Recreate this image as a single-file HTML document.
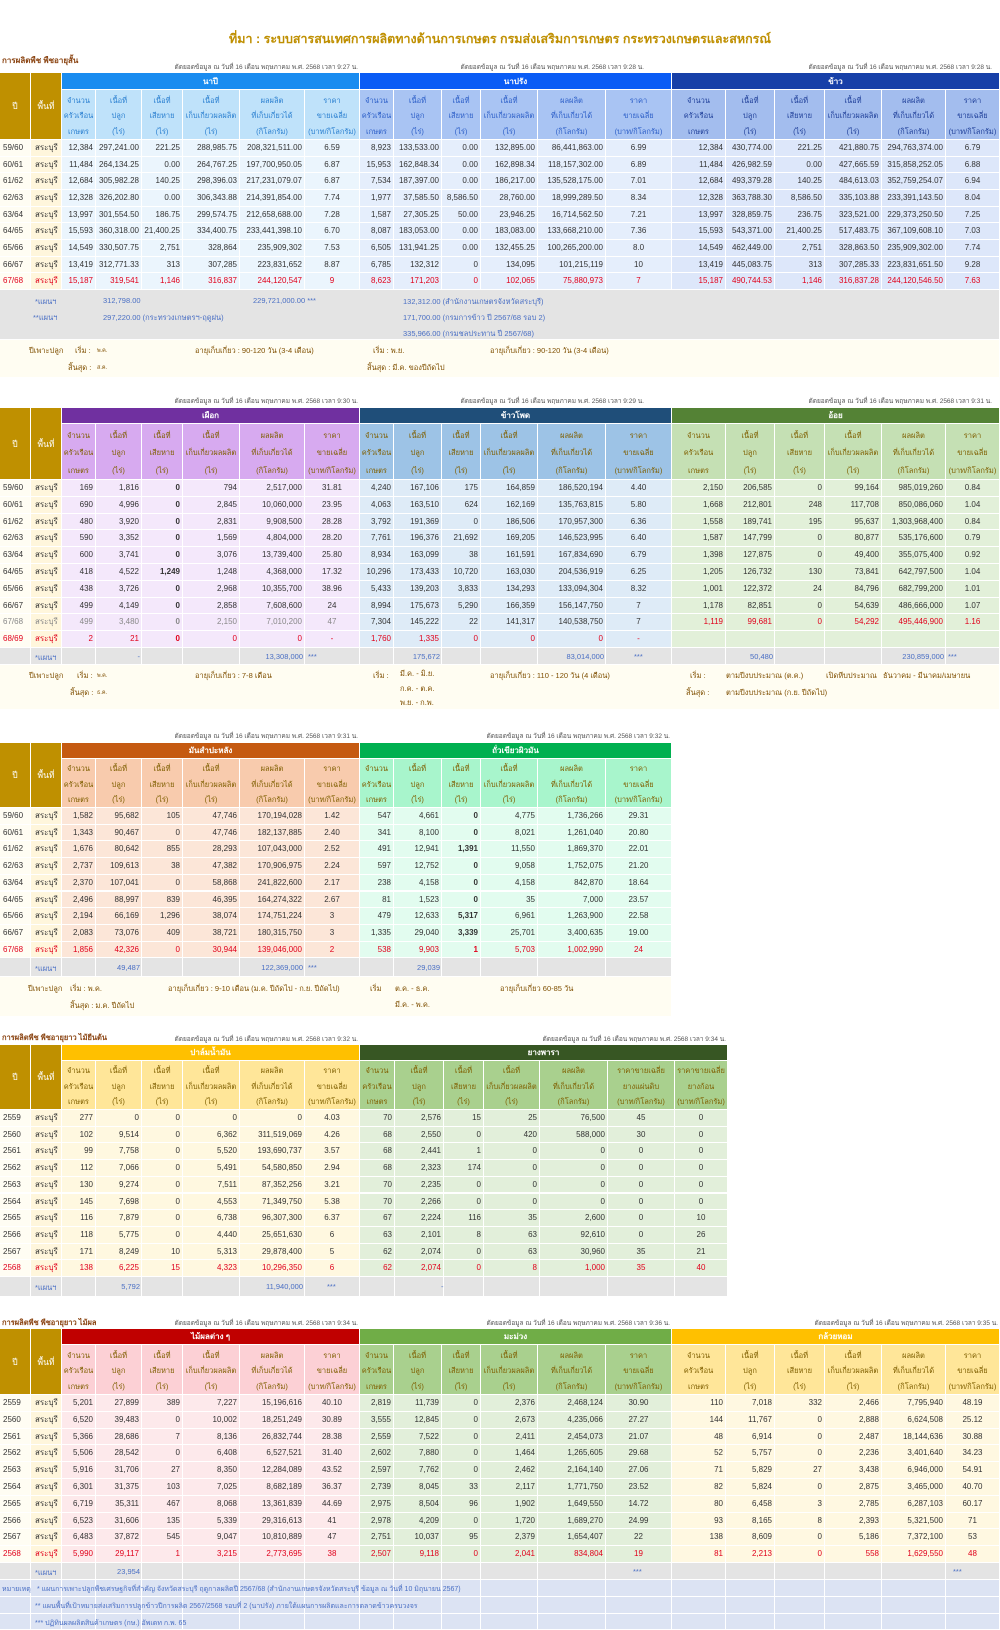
<!DOCTYPE html>
<html><head><meta charset="utf-8">
<style>
html,body{margin:0;padding:0;background:#fff;}
#page{position:relative;width:1000px;height:1630px;overflow:hidden;font-family:"Liberation Sans","DejaVu Sans",sans-serif;font-size:8px;color:#333;}
.c{position:absolute;box-sizing:border-box;border-right:1px solid #fff;border-bottom:1px solid #fff;overflow:hidden;white-space:nowrap;}
.t{position:absolute;white-space:nowrap;}
</style></head>
<body>
<div id="page">
<div class="t" style="left:0;width:1000px;top:29px;text-align:center;font-size:12.5px;font-weight:bold;color:#bf8f00;">ที่มา : ระบบสารสนเทศการผลิตทางด้านการเกษตร กรมส่งเสริมการเกษตร กระทรวงเกษตรและสหกรณ์</div>
</div>
<script>
// ---------- data ----------
const yearsShort = ["59/60","60/61","61/62","62/63","63/64","64/65","65/66","66/67","67/68"];
const yearsShort2 = ["59/60","60/61","61/62","62/63","63/64","64/65","65/66","66/67","67/68","68/69"];
const yearsLong = ["2559","2560","2561","2562","2563","2564","2565","2566","2567","2568"];
const napiRows = [
["12,384","297,241.00","221.25","288,985.75","208,321,511.00","6.59"],
["11,484","264,134.25","0.00","264,767.25","197,700,950.05","6.87"],
["12,684","305,982.28","140.25","298,396.03","217,231,079.07","6.87"],
["12,328","326,202.80","0.00","306,343.88","214,391,854.00","7.74"],
["13,997","301,554.50","186.75","299,574.75","212,658,688.00","7.28"],
["15,593","360,318.00","21,400.25","334,400.75","233,441,398.10","6.70"],
["14,549","330,507.75","2,751","328,864","235,909,302","7.53"],
["13,419","312,771.33","313","307,285","223,831,652","8.87"],
["15,187","319,541","1,146","316,837","244,120,547","9"]];
const naprangRows = [
["8,923","133,533.00","0.00","132,895.00","86,441,863.00","6.99"],
["15,953","162,848.34","0.00","162,898.34","118,157,302.00","6.89"],
["7,534","187,397.00","0.00","186,217.00","135,528,175.00","7.01"],
["1,977","37,585.50","8,586.50","28,760.00","18,999,289.50","8.34"],
["1,587","27,305.25","50.00","23,946.25","16,714,562.50","7.21"],
["8,087","183,053.00","0.00","183,083.00","133,668,210.00","7.36"],
["6,505","131,941.25","0.00","132,455.25","100,265,200.00","8.0"],
["6,785","132,312","0","134,095","101,215,119","10"],
["8,623","171,203","0","102,065","75,880,973","7"]];
const riceRows = [
["12,384","430,774.00","221.25","421,880.75","294,763,374.00","6.79"],
["11,484","426,982.59","0.00","427,665.59","315,858,252.05","6.88"],
["12,684","493,379.28","140.25","484,613.03","352,759,254.07","6.94"],
["12,328","363,788.30","8,586.50","335,103.88","233,391,143.50","8.04"],
["13,997","328,859.75","236.75","323,521.00","229,373,250.50","7.25"],
["15,593","543,371.00","21,400.25","517,483.75","367,109,608.10","7.03"],
["14,549","462,449.00","2,751","328,863.50","235,909,302.00","7.74"],
["13,419","445,083.75","313","307,285.33","223,831,651.50","9.28"],
["15,187","490,744.53","1,146","316,837.28","244,120,546.50","7.63"]];
const taroRows = [
["169","1,816","0","794","2,517,000","31.81"],
["690","4,996","0","2,845","10,060,000","23.95"],
["480","3,920","0","2,831","9,908,500","28.28"],
["590","3,352","0","1,569","4,804,000","28.20"],
["600","3,741","0","3,076","13,739,400","25.80"],
["418","4,522","1,249","1,248","4,368,000","17.32"],
["438","3,726","0","2,968","10,355,700","38.96"],
["499","4,149","0","2,858","7,608,600","24"],
["499","3,480","0","2,150","7,010,200","47"],
["2","21","0","0","0","-"]];
const cornRows = [
["4,240","167,106","175","164,859","186,520,194","4.40"],
["4,063","163,510","624","162,169","135,763,815","5.80"],
["3,792","191,369","0","186,506","170,957,300","6.36"],
["7,761","196,376","21,692","169,205","146,523,995","6.40"],
["8,934","163,099","38","161,591","167,834,690","6.79"],
["10,296","173,433","10,720","163,030","204,536,919","6.25"],
["5,433","139,203","3,833","134,293","133,094,304","8.32"],
["8,994","175,673","5,290","166,359","156,147,750","7"],
["7,304","145,222","22","141,317","140,538,750","7"],
["1,760","1,335","0","0","0","-"]];
const caneRows = [
["2,150","206,585","0","99,164","985,019,260","0.84"],
["1,668","212,801","248","117,708","850,086,060","1.04"],
["1,558","189,741","195","95,637","1,303,968,400","0.84"],
["1,587","147,799","0","80,877","535,176,600","0.79"],
["1,398","127,875","0","49,400","355,075,400","0.92"],
["1,205","126,732","130","73,841","642,797,500","1.04"],
["1,001","122,372","24","84,796","682,799,200","1.01"],
["1,178","82,851","0","54,639","486,666,000","1.07"],
["1,119","99,681","0","54,292","495,446,900","1.16"],
["","","","","",""]];
const cassavaRows = [
["1,582","95,682","105","47,746","170,194,028","1.42"],
["1,343","90,467","0","47,746","182,137,885","2.40"],
["1,676","80,642","855","28,293","107,043,000","2.52"],
["2,737","109,613","38","47,382","170,906,975","2.24"],
["2,370","107,041","0","58,868","241,822,600","2.17"],
["2,496","88,997","839","46,395","164,274,322","2.67"],
["2,194","66,169","1,296","38,074","174,751,224","3"],
["2,083","73,076","409","38,721","180,315,750","3"],
["1,856","42,326","0","30,944","139,046,000","2"]];
const mungRows = [
["547","4,661","0","4,775","1,736,266","29.31"],
["341","8,100","0","8,021","1,261,040","20.80"],
["491","12,941","1,391","11,550","1,869,370","22.01"],
["597","12,752","0","9,058","1,752,075","21.20"],
["238","4,158","0","4,158","842,870","18.64"],
["81","1,523","0","35","7,000","23.57"],
["479","12,633","5,317","6,961","1,263,900","22.58"],
["1,335","29,040","3,339","25,701","3,400,635","19.00"],
["538","9,903","1","5,703","1,002,990","24"]];
const palmRows = [
["277","0","0","0","0","4.03"],
["102","9,514","0","6,362","311,519,069","4.26"],
["99","7,758","0","5,520","193,690,737","3.57"],
["112","7,066","0","5,491","54,580,850","2.94"],
["130","9,274","0","7,511","87,352,256","3.21"],
["145","7,698","0","4,553","71,349,750","5.38"],
["116","7,879","0","6,738","96,307,300","6.37"],
["118","5,775","0","4,440","25,651,630","6"],
["171","8,249","10","5,313","29,878,400","5"],
["138","6,225","15","4,323","10,296,350","6"]];
const rubberRows = [
["70","2,576","15","25","76,500","45","0"],
["68","2,550","0","420","588,000","30","0"],
["68","2,441","1","0","0","0","0"],
["68","2,323","174","0","0","0","0"],
["70","2,235","0","0","0","0","0"],
["70","2,266","0","0","0","0","0"],
["67","2,224","116","35","2,600","0","10"],
["63","2,101","8","63","92,610","0","26"],
["62","2,074","0","63","30,960","35","21"],
["62","2,074","0","8","1,000","35","40"]];
const fruitRows = [
["5,201","27,899","389","7,227","15,196,616","40.10"],
["6,520","39,483","0","10,002","18,251,249","30.89"],
["5,366","28,686","7","8,136","26,832,744","28.38"],
["5,506","28,542","0","6,408","6,527,521","31.40"],
["5,916","31,706","27","8,350","12,284,089","43.52"],
["6,301","31,375","103","7,025","8,682,189","36.37"],
["6,719","35,311","467","8,068","13,361,839","44.69"],
["6,523","31,606","135","5,339","29,316,613","41"],
["6,483","37,872","545","9,047","10,810,889","47"],
["5,990","29,117","1","3,215","2,773,695","38"]];
const mangoRows = [
["2,819","11,739","0","2,376","2,468,124","30.90"],
["3,555","12,845","0","2,673","4,235,066","27.27"],
["2,559","7,522","0","2,411","2,454,073","21.07"],
["2,602","7,880","0","1,464","1,265,605","29.68"],
["2,597","7,762","0","2,462","2,164,140","27.06"],
["2,739","8,045","33","2,117","1,771,750","23.52"],
["2,975","8,504","96","1,902","1,649,550","14.72"],
["2,978","4,209","0","1,720","1,689,270","24.99"],
["2,751","10,037","95","2,379","1,654,407","22"],
["2,507","9,118","0","2,041","834,804","19"]];
const bananaRows = [
["110","7,018","332","2,466","7,795,940","48.19"],
["144","11,767","0","2,888","6,624,508","25.12"],
["48","6,914","0","2,487","18,144,636","30.88"],
["52","5,757","0","2,236","3,401,640","34.23"],
["71","5,829","27","3,438","6,946,000","54.91"],
["82","5,824","0","2,875","3,465,000","40.70"],
["80","6,458","3","2,785","6,287,103","60.17"],
["93","8,165","8","2,393","5,321,500","71"],
["138","8,609","0","5,186","7,372,100","53"],
["81","2,213","0","558","1,629,550","48"]];

// ---------- builder ----------
const page = document.getElementById('page');
const subLabels = [["จำนวน","ครัวเรือน","เกษตร"],["เนื้อที่","ปลูก","(ไร่)"],["เนื้อที่","เสียหาย","(ไร่)"],["เนื้อที่","เก็บเกี่ยวผลผลิต","(ไร่)"],["ผลผลิต","ที่เก็บเกี่ยวได้","(กิโลกรัม)"],["ราคา","ขายเฉลี่ย","(บาท/กิโลกรัม)"]];
const rubberExtra = [["ราคาขายเฉลี่ย","ยางแผ่นดิบ","(บาท/กิโลกรัม)"],["ราคาขายเฉลี่ย","ยางก้อน","(บาท/กิโลกรัม)"]];
const G6a = [62,96,142,183,240,305,360];
const G6b = [360,394,442,481,538,606,672];
const G6c = [672,726,775,825,882,946,1000];
const G7r = [360,395,444,484,540,608,675,728];

function box(x,y,w,h,bg,name){
  const d=document.createElement('div');
  d.className='c';
  
  
  d.style.left=x+'px';d.style.top=y+'px';d.style.width=w+'px';d.style.height=h+'px';
  if(bg) d.style.background=bg;
  page.appendChild(d);return d;
}
function txt(x,y,s,style,name){
  const d=document.createElement('div');
  d.className='t';
  
  
  d.style.left=x+'px';d.style.top=y+'px';
  d.textContent=s;
  if(style) d.style.cssText+=style;
  page.appendChild(d);return d;
}
function rightTxt(xr,y,s,style,name){
  const d=txt(0,y,s,style,name);
  d.style.left='auto';d.style.right=(1000-xr)+'px';return d;
}

function section(top,bandH,subH,rowH,years,redRow,grayRow){
  // ปี / พื้นที่ header
  let d=box(0,top,31,bandH+subH,'#bf9000','year-header');
  d.style.cssText+='color:#fff;font-size:8.5px;display:flex;align-items:center;justify-content:center;';d.textContent='ปี';
  d=box(31,top,31,bandH+subH,'#bf9000','area-header');
  d.style.cssText+='color:#fff;font-size:8.5px;display:flex;align-items:center;justify-content:center;';d.textContent='พื้นที่';
  const y0=top+bandH+subH;
  years.forEach((yr,i)=>{
    const red=i===redRow, gray=i===grayRow;
    const col=red?'#e0001b':(gray?'#888':'#333');
    let a=box(0,y0+i*rowH,31,rowH,'#fffdf3','year-cell');
    a.style.cssText+='color:'+col+';padding-left:3px;line-height:'+rowH+'px;';a.textContent=yr;
    let b=box(31,y0+i*rowH,31,rowH,'#fff6dc','area-cell');
    b.style.cssText+='color:'+col+';padding-left:4px;line-height:'+rowH+'px;';b.textContent='สระบุรี';
  });
}
function crop(top,bandH,subH,rowH,grid,name,hdrBg,subBg,rowBg,subCol,rows,redRow,grayRow,labels,boldDamage){
  const x0=grid[0],x1=grid[grid.length-1];
  let h=box(x0,top,x1-x0,bandH,hdrBg,'crop-header-'+name);
  h.style.cssText+='color:#fff;font-weight:bold;text-align:center;line-height:'+bandH+'px;font-size:8px;';
  h.textContent=name;
  const y0=top+bandH+subH;
  for(let c=0;c<grid.length-1;c++){
    const w=grid[c+1]-grid[c];
    let s=box(grid[c],top+bandH,w,subH,subBg,'column-header');
    s.style.cssText+='color:'+subCol+';text-align:center;font-size:7.5px;line-height:'+(subH/3.2)+'px;padding-top:'+(subH*0.05)+'px;';
    s.innerHTML=labels[c].join('<br>');
    rows.forEach((r,i)=>{
      const red=i===redRow, gray=i===grayRow;
      let v=box(grid[c],y0+i*rowH,w,rowH,rowBg,'data-cell');
      const isPrice=(c>=5);
      v.style.cssText+='line-height:'+rowH+'px;color:'+(red?'#e0001b':(gray?'#888':'#333'))+';'+(isPrice?'text-align:center;':'text-align:right;padding-right:2px;')+((boldDamage&&c===2)?'font-weight:bold;':'');
      v.textContent=r[c];
    });
  }
}
function planRow(y,h,grid,bg){
  for(let c=0;c<grid.length-1;c++){ box(grid[c],y,grid[c+1]-grid[c],h,bg,'plan-cell'); }
}
const TS='ตัดยอดข้อมูล ณ วันที่ 16 เดือน พฤษภาคม พ.ศ. 2568 เวลา ';
const tsStyle='font-size:6.5px;color:#555;';
const brown='color:#7f4f00;font-size:7.5px;';
const planBlue='color:#4a6fc4;font-size:7.5px;';
const fullGrid=[0,31,62,96,142,183,240,305,360,394,442,481,538,606,672,726,775,825,882,946,1000];

// ===== Section 1 =====
txt(2,54,'การผลิตพืช พืชอายุสั้น','font-size:8px;font-weight:bold;color:#8b4513;','section-short-crops-label');
rightTxt(358,62,TS+'9:27 น.',tsStyle,'timestamp');
rightTxt(644,62,TS+'9:28 น.',tsStyle,'timestamp');
rightTxt(992,62,TS+'9:28 น.',tsStyle,'timestamp');
section(73,17,50,16.67,yearsShort,8,-1);
crop(73,17,50,16.67,G6a,'นาปี','#1a8cf0','#bfe2fa','#ebf5fd','#2a7fd0',napiRows,8,-1,subLabels,false);
crop(73,17,50,16.67,G6b,'นาปรัง','#0a5cf5','#a9c4f3','#e5eefc','#2d5fc8',naprangRows,8,-1,subLabels,false);
crop(73,17,50,16.67,G6c,'ข้าว','#1740a8','#a3bdee','#dde7fa','#1f3f99',riceRows,8,-1,subLabels,false);
box(0,290,1000,50,'#e4e4e4','plan-area');
txt(35,296,'*แผนฯ',planBlue,'plan-label');
txt(103,296,'312,798.00',planBlue,'plan-value');
txt(253,296,'229,721,000.00 ***',planBlue,'plan-value');
txt(33,312,'**แผนฯ',planBlue,'plan-label');
txt(103,312,'297,220.00 (กระทรวงเกษตรฯ-ฤดูฝน)',planBlue,'plan-value');
txt(403,296,'132,312.00 (สำนักงานเกษตรจังหวัดสระบุรี)',planBlue,'plan-value');
txt(403,312,'171,700.00 (กรมการข้าว ปี 2567/68 รอบ 2)',planBlue,'plan-value');
txt(403,328,'335,966.00 (กรมชลประทาน ปี 2567/68)',planBlue,'plan-value');
box(0,340,1000,38,'#fffdf2','season-area');
txt(29,345,'ปีเพาะปลูก',brown,'season-label');
txt(75,345,'เริ่ม :',brown,'season-start-label');
txt(97,347,'พ.ค.','font-size:5.5px;color:#7f4f00;','season-start');
txt(195,345,'อายุเก็บเกี่ยว :  90-120 วัน (3-4 เดือน)',brown,'harvest-age');
txt(68,362,'สิ้นสุด :',brown,'season-end-label');
txt(97,364,'ส.ค.','font-size:5.5px;color:#7f4f00;','season-end');
txt(373,345,'เริ่ม :  พ.ย.',brown,'season-start');
txt(490,345,'อายุเก็บเกี่ยว :  90-120 วัน (3-4 เดือน)',brown,'harvest-age');
txt(367,362,'สิ้นสุด :  มี.ค. ของปีถัดไป',brown,'season-end');

// ===== Section 2 =====
rightTxt(358,396,TS+'9:30 น.',tsStyle,'timestamp');
rightTxt(644,396,TS+'9:29 น.',tsStyle,'timestamp');
rightTxt(992,396,TS+'9:31 น.',tsStyle,'timestamp');
section(408,16,56,16.8,yearsShort2,9,8);
crop(408,16,56,16.8,G6a,'เผือก','#7030a0','#d7aaf0','#f4e8fb','#7f5f00',taroRows,9,8,subLabels,true);
crop(408,16,56,16.8,G6b,'ข้าวโพด','#1f4e79','#9dc3e6','#deebf7','#7f5f00',cornRows,9,-1,subLabels,false);
crop(408,16,56,16.8,G6c,'อ้อย','#548235','#c5e0b4','#e2f0d9','#7f5f00',caneRows,8,-1,subLabels,false);
planRow(648,17,fullGrid,'#e4e4e4');
txt(35,652,'*แผนฯ',planBlue,'plan-label');
rightTxt(140,652,'-',planBlue,'plan-value');
rightTxt(303,652,'13,308,000',planBlue,'plan-value');
txt(308,652,'***',planBlue,'plan-mark');
rightTxt(440,652,'175,672',planBlue,'plan-value');
rightTxt(604,652,'83,014,000',planBlue,'plan-value');
txt(634,652,'***',planBlue,'plan-mark');
rightTxt(773,652,'50,480',planBlue,'plan-value');
rightTxt(944,652,'230,859,000',planBlue,'plan-value');
txt(948,652,'***',planBlue,'plan-mark');
box(0,665,1000,45,'#fffdf2','season-area');
txt(29,670,'ปีเพาะปลูก',brown,'season-label');
txt(77,670,'เริ่ม :',brown,'season-start-label');
txt(97,672,'พ.ค.','font-size:5.5px;color:#7f4f00;','season-start');
txt(195,670,'อายุเก็บเกี่ยว :  7-8 เดือน',brown,'harvest-age');
txt(70,687,'สิ้นสุด :',brown,'season-end-label');
txt(97,689,'ธ.ค.','font-size:5.5px;color:#7f4f00;','season-end');
txt(373,670,'เริ่ม :',brown,'season-start-label');
txt(400,668,'มี.ค. - มิ.ย.',brown,'season-period');
txt(400,683,'ก.ค. - ต.ค.',brown,'season-period');
txt(400,697,'พ.ย. - ก.พ.',brown,'season-period');
txt(490,670,'อายุเก็บเกี่ยว :  110 - 120 วัน (4 เดือน)',brown,'harvest-age');
txt(690,670,'เริ่ม :',brown,'season-start-label');
txt(726,670,'ตามปีงบประมาณ (ต.ค.)',brown,'season-start');
txt(826,670,'เปิดหีบประมาณ',brown,'mill-open-label');
txt(883,670,'ธันวาคม - มีนาคม/เมษายน',brown,'mill-open-period');
txt(686,687,'สิ้นสุด :',brown,'season-end-label');
txt(726,687,'ตามปีงบประมาณ (ก.ย. ปีถัดไป)',brown,'season-end');

// ===== Section 3 =====
rightTxt(358,731,TS+'9:31 น.',tsStyle,'timestamp');
rightTxt(670,731,TS+'9:32 น.',tsStyle,'timestamp');
section(743,16,49,16.7,yearsShort,8,-1);
crop(743,16,49,16.7,G6a,'มันสำปะหลัง','#c55a11','#f8cbad','#fce6d8','#7f5f00',cassavaRows,8,-1,subLabels,false);
crop(743,16,49,16.7,G6b,'ถั่วเขียวผิวมัน','#00b050','#a8f5cc','#e2fcef','#7f5f00',mungRows,8,-1,subLabels,true);
planRow(958,19,fullGrid.slice(0,15),'#e4e4e4');
txt(35,963,'*แผนฯ',planBlue,'plan-label');
rightTxt(140,963,'49,487',planBlue,'plan-value');
rightTxt(303,963,'122,369,000',planBlue,'plan-value');
txt(308,963,'***',planBlue,'plan-mark');
rightTxt(440,963,'29,039',planBlue,'plan-value');
box(0,977,672,40,'#fffdf2','season-area');
txt(28,983,'ปีเพาะปลูก',brown,'season-label');
txt(70,983,'เริ่ม :  พ.ค.',brown,'season-start');
txt(168,983,'อายุเก็บเกี่ยว : 9-10 เดือน (ม.ค. ปีถัดไป - ก.ย. ปีถัดไป)',brown,'harvest-age');
txt(70,1000,'สิ้นสุด :  ม.ค. ปีถัดไป',brown,'season-end');
txt(370,983,'เริ่ม',brown,'season-start-label');
txt(395,983,'ต.ค. - ธ.ค.',brown,'season-period');
txt(395,999,'มี.ค. - พ.ค.',brown,'season-period');
txt(500,983,'อายุเก็บเกี่ยว 60-85 วัน',brown,'harvest-age');

// ===== Section 4 =====
txt(2,1032,'การผลิตพืช พืชอายุยาว ไม้ยืนต้น','font-size:7.5px;font-weight:bold;color:#8b4513;','section-perennial-label');
rightTxt(358,1034,TS+'9:32 น.',tsStyle,'timestamp');
rightTxt(726,1034,TS+'9:34 น.',tsStyle,'timestamp');
section(1045,16,49,16.7,yearsLong,9,-1);
crop(1045,16,49,16.7,G6a,'ปาล์มน้ำมัน','#ffc000','#ffe699','#fff8e0','#7f5f00',palmRows,9,-1,subLabels,false);
crop(1045,16,49,16.7,G7r,'ยางพารา','#375623','#a9d08e','#e2efda','#7f5f00',rubberRows,9,-1,subLabels.slice(0,5).concat(rubberExtra),false);
planRow(1277,20,[0,31,62,96,142,183,240,305,360,395,444,484,540,608,675,728],'#e4e4e4');
txt(35,1282,'*แผนฯ',planBlue,'plan-label');
rightTxt(140,1282,'5,792',planBlue,'plan-value');
rightTxt(303,1282,'11,940,000',planBlue,'plan-value');
txt(327,1282,'***',planBlue,'plan-mark');
txt(441,1282,'-',planBlue,'plan-value');

// ===== Section 5 =====
txt(2,1317,'การผลิตพืช พืชอายุยาว ไม้ผล','font-size:7.5px;font-weight:bold;color:#8b4513;','section-fruit-label');
rightTxt(358,1318,TS+'9:34 น.',tsStyle,'timestamp');
rightTxt(670,1318,TS+'9:36 น.',tsStyle,'timestamp');
rightTxt(998,1318,TS+'9:35 น.',tsStyle,'timestamp');
section(1329,16,50,16.8,yearsLong,9,-1);
crop(1329,16,50,16.8,G6a,'ไม้ผลต่าง ๆ','#c00000','#fcd0d5','#fde9eb','#7f5f00',fruitRows,9,-1,subLabels,false);
crop(1329,16,50,16.8,G6b,'มะม่วง','#70ad47','#a9d08e','#e2efda','#7f5f00',mangoRows,9,-1,subLabels,false);
crop(1329,16,50,16.8,G6c,'กล้วยหอม','#ffc000','#ffe699','#fff8e1','#7f5f00',bananaRows,9,-1,subLabels,false);
planRow(1563,17,fullGrid,'#e4e4e4');
txt(35,1567,'*แผนฯ',planBlue,'plan-label');
rightTxt(140,1567,'23,954',planBlue,'plan-value');
txt(633,1567,'***',planBlue,'plan-mark');
txt(953,1567,'***',planBlue,'plan-mark');
planRow(1580,17,fullGrid,'#dce3f3');
planRow(1597,17,fullGrid,'#dce3f3');
planRow(1614,16,fullGrid,'#dce3f3');
txt(2,1584,'หมายเหตุ',planBlue+'font-size:7px;','notes-label');
txt(37,1584,'* แผนการเพาะปลูกพืชเศรษฐกิจที่สำคัญ จังหวัดสระบุรี ฤดูกาลผลิตปี 2567/68 (สำนักงานเกษตรจังหวัดสระบุรี ข้อมูล ณ วันที่ 10 มิถุนายน 2567)',planBlue+'font-size:7px;','note-1');
txt(35,1601,'** แผนพื้นที่เป้าหมายส่งเสริมการปลูกข้าวปีการผลิต 2567/2568 รอบที่ 2 (นาปรัง) ภายใต้แผนการผลิตและการตลาดข้าวครบวงจร',planBlue+'font-size:7px;','note-2');
txt(35,1618,'*** ปฏิทินผลผลิตสินค้าเกษตร (กษ.) อัพเดท ก.พ. 65',planBlue+'font-size:7px;','note-3');
</script>
</body></html>
